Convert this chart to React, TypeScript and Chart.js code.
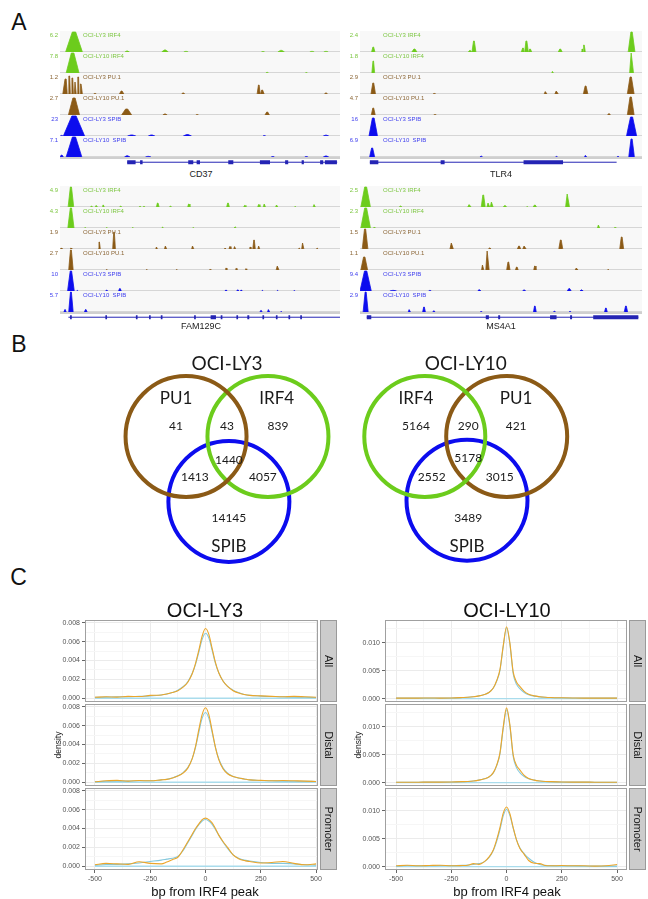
import React, { useEffect, useRef } from "react";
import { Chart, registerables } from "chart.js";
Chart.register(...registerables);

// ================= Panel A : genome browser tracks =================
const TRACK_NAMES = ["OCI-LY3 IRF4", "OCI-LY10 IRF4", "OCI-LY3 PU.1", "OCI-LY10 PU.1", "OCI-LY3 SPIB", "OCI-LY10  SPIB"];

const CD37_SCALES = ["6.2", "7.8", "1.2", "2.7", "23", "7.1"];
const TLR4_SCALES = ["2.4", "1.8", "2.9", "4.7", "16", "6.9"];
const FAM129C_SCALES = ["4.9", "4.3", "1.9", "2.7", "10", "5.7"];
const MS4A1_SCALES = ["2.5", "2.3", "1.5", "1.1", "9.4", "2.9"];

// peaks: [position % of locus, relative height, half width %]
const CD37_LY3_IRF4 = [[5, 1, 3], [24, 0.05, 0.8], [37.5, 0.1, 1.2], [45, 0.03, 0.8], [72.5, 0.02, 0.6], [79, 0.08, 1.2], [90, 0.03, 0.8], [95, 0.03, 0.8]];
const CD37_LY10_IRF4 = [[4.5, 1, 2.3], [74, 0.03, 0.5], [88, 0.02, 0.4]];
const CD37_LY3_PU1 = [[2, 0.75, 1], [3.3, 0.9, 0.7], [4.4, 0.8, 0.7], [5.5, 0.6, 0.7], [6.5, 0.85, 0.7], [7.4, 0.5, 0.6], [12.5, 0.03, 0.5], [22, 0.15, 0.8], [44, 0.05, 0.6], [71, 0.45, 0.6], [72.2, 0.2, 0.7], [95, 0.05, 0.6]];
const CD37_LY10_PU1 = [[5, 0.85, 2], [23.8, 0.3, 1.8], [37.5, 0.05, 0.8], [49, 0.02, 0.5], [74, 0.15, 0.8]];
const CD37_LY3_SPIB = [[0.6, 0.03, 0.5], [5, 1, 3.8], [25.6, 0.05, 1.5], [32.7, 0.05, 1.2], [45.5, 0.07, 1.5], [73, 0.02, 0.5], [95, 0.04, 1]];
const CD37_LY10_SPIB = [[0.6, 0.1, 0.6], [5, 1, 2.8], [24, 0.06, 1], [31.5, 0.03, 1], [76, 0.02, 0.6], [88, 0.02, 0.6], [95, 0.05, 1]];

const TLR4_LY3_IRF4 = [[4.7, 0.25, 0.6], [19.3, 0.15, 0.9], [39, 0.08, 0.6], [40.4, 0.55, 0.7], [57.8, 0.2, 0.6], [59, 0.55, 0.8], [60.3, 0.15, 0.6], [71, 0.15, 0.7], [78.8, 0.15, 0.4], [79.4, 0.35, 0.5], [96.3, 1, 1.2]];
const TLR4_LY10_IRF4 = [[4.7, 0.6, 0.5], [68.3, 0.08, 0.3], [96.3, 1, 0.7]];
const TLR4_LY3_PU1 = [[4.7, 0.55, 0.8], [26.4, 0.03, 0.5], [65.8, 0.12, 0.5], [69.7, 0.15, 0.6], [80, 0.4, 0.8], [96, 0.85, 1.2]];
const TLR4_LY10_PU1 = [[4.7, 0.35, 0.7], [26.6, 0.02, 0.5], [88.3, 0.06, 0.6], [96, 0.9, 1.2]];
const TLR4_LY3_SPIB = [[4.7, 0.9, 1.5], [96.3, 0.95, 1.8]];
const TLR4_LY10_SPIB = [[4.3, 0.45, 0.9], [43, 0.04, 0.5], [69.7, 0.03, 0.4], [80, 0.08, 0.4], [91.5, 0.03, 0.4], [96.3, 0.9, 1]];

const FAM129C_LY3_IRF4 = [[3.9, 1, 1], [11.3, 0.05, 0.4], [13, 0.08, 0.4], [15.4, 0.1, 0.4], [21.7, 0.05, 0.4], [28.6, 0.03, 0.4], [30, 0.03, 0.4], [34.9, 0.2, 0.5], [39.5, 0.05, 0.4], [46, 0.15, 0.4], [60, 0.2, 0.5], [66, 0.08, 0.4], [71, 0.12, 0.4], [73, 0.15, 0.4], [77.4, 0.1, 0.4], [84, 0.03, 0.3], [90.8, 0.12, 0.4]];
const FAM129C_LY10_IRF4 = [[3.9, 1, 1.1], [9, 0.02, 0.3], [16.7, 0.02, 0.3], [26, 0.02, 0.3], [36.7, 0.05, 0.3], [47.6, 0.02, 0.3], [62.6, 0.06, 0.4]];
const FAM129C_LY3_PU1 = [[0.4, 0.05, 0.3], [3.9, 0.05, 0.3], [14, 0.35, 0.4], [19.3, 0.85, 0.5], [34.5, 0.1, 0.3], [37.7, 0.15, 0.4], [47.4, 0.15, 0.4], [59, 0.05, 0.3], [60.7, 0.12, 0.35], [62.4, 0.12, 0.35], [67.9, 0.1, 0.3], [69.3, 0.45, 0.45], [71, 0.15, 0.35], [85.5, 0.05, 0.3], [86.7, 0.3, 0.4], [91.9, 0.05, 0.3]];
const FAM129C_LY10_PU1 = [[3.9, 1, 0.8], [16.7, 0.02, 0.3], [31, 0.02, 0.3], [41.7, 0.02, 0.3], [53.6, 0.03, 0.3], [59.3, 0.1, 0.3], [62.9, 0.08, 0.3], [66.4, 0.06, 0.3], [77.7, 0.2, 0.5]];
const FAM129C_LY3_SPIB = [[3.9, 1, 1.2], [6.2, 0.03, 0.3], [16.7, 0.05, 0.4], [21.4, 0.12, 0.5], [59.3, 0.05, 0.4], [63.5, 0.05, 0.5], [64.7, 0.05, 0.4], [72.3, 0.03, 0.3], [77.7, 0.03, 0.3], [83.7, 0.02, 0.3]];
const FAM129C_LY10_SPIB = [[1.8, 0.12, 0.4], [3.9, 1, 0.8], [9.2, 0.12, 0.5], [71.8, 0.08, 0.4], [74.5, 0.12, 0.4], [79, 0.03, 0.3]];

const MS4A1_LY3_IRF4 = [[2, 1, 1.7], [14.4, 0.05, 0.5], [38.8, 0.12, 0.6], [43.7, 0.6, 0.7], [45.5, 0.2, 0.5], [46.7, 0.25, 0.5], [51.4, 0.07, 0.6], [59.3, 0.02, 0.3], [62, 0.1, 0.6], [73.6, 0.65, 0.7]];
const MS4A1_LY10_IRF4 = [[2, 1, 1.7], [5, 0.03, 0.3], [84.6, 0.15, 0.4], [90.4, 0.03, 0.3]];
const MS4A1_LY3_PU1 = [[1.8, 1, 1], [32.5, 0.3, 0.6], [46, 0.05, 0.5], [56.4, 0.15, 0.6], [58.3, 0.15, 0.6], [71.2, 0.45, 0.7], [92.8, 0.6, 0.7]];
const MS4A1_LY10_PU1 = [[1.5, 0.65, 1.2], [43.5, 0.25, 0.4], [45.2, 0.95, 0.6], [52.6, 0.4, 0.6], [55.6, 0.15, 0.5], [62, 0.2, 0.4], [76.8, 0.1, 0.5], [88, 0.02, 0.3]];
const MS4A1_LY3_SPIB = [[2, 1, 2], [11.8, 0.03, 1.2], [24.8, 0.03, 0.5], [42.3, 0.06, 0.6], [58.2, 0.05, 0.6], [74.2, 0.12, 0.7], [78.6, 0.06, 0.6]];
const MS4A1_LY10_SPIB = [[2, 1, 0.9], [17.5, 0.12, 0.4], [22.7, 0.25, 0.5], [26.2, 0.06, 0.4], [43, 0.03, 0.4], [62, 0.3, 0.5], [69, 0.05, 0.4], [74.5, 0.03, 0.4], [87.2, 0.2, 0.5], [94.3, 0.3, 0.6]];

// gene models: span and exons in % of locus
const CD37_SPAN = [24, 99];
const CD37_EXONS = [[24, 27], [28.6, 29.5], [45.8, 47.6], [48.8, 50], [60.1, 61.9], [71.4, 75], [80.4, 81.5], [86.3, 87.1], [92.9, 94], [94.6, 98.9]];
const TLR4_SPAN = [3.5, 91];
const TLR4_EXONS = [[3.5, 6.5], [28.6, 30], [58, 72]];
const FAM129C_SPAN = [3, 100];
const FAM129C_EXONS = [[3.6, 4.2], [16.2, 16.8], [27.1, 27.7], [31.8, 32.4], [36, 36.6], [47.9, 48.5], [53.8, 55.7], [57.4, 58], [63, 63.6], [66.9, 67.6], [72.3, 72.9], [77.1, 77.7], [81.6, 82.2], [85.8, 86.4]];
const MS4A1_SPAN = [2.4, 98.7];
const MS4A1_EXONS = [[2.4, 4], [44.6, 45.7], [49, 49.7], [67.4, 69.7], [74.5, 75.2], [82.7, 98.7]];

// ================= Panel B : Venn diagrams =================
const LY3_SETS = ["PU1", "IRF4", "SPIB"];
const LY3_COUNTS = ["41", "43", "839", "1440", "1413", "4057", "14145"];
const LY10_SETS = ["IRF4", "PU1", "SPIB"];
const LY10_COUNTS = ["5164", "290", "421", "5178", "2552", "3015", "3489"];

// ================= Panel C : density profiles =================
const DENS_X = [-500, -450, -400, -350, -300, -250, -200, -175, -150, -125, -100, -80, -60, -45, -30, -15, 0, 15, 30, 45, 60, 80, 100, 125, 150, 175, 200, 250, 300, 350, 400, 450, 500];
const LY3_ALL_ORANGE = [0.0001, 0.00015, 0.00012, 0.0002, 0.00018, 0.0003, 0.00035, 0.00045, 0.0006, 0.0008, 0.0012, 0.0017, 0.0026, 0.0037, 0.0051, 0.0066, 0.0074, 0.0068, 0.0053, 0.0038, 0.0027, 0.0018, 0.00125, 0.0008, 0.00055, 0.0004, 0.0003, 0.00025, 0.0002, 0.00015, 0.0002, 0.00015, 0.0001];
const LY3_ALL_BLUE = [0.0001, 0.00012, 0.00015, 0.00015, 0.0002, 0.00025, 0.00035, 0.00045, 0.0006, 0.00085, 0.00125, 0.00175, 0.00265, 0.0036, 0.0049, 0.00625, 0.0069, 0.0064, 0.0051, 0.0037, 0.0027, 0.0018, 0.00125, 0.00085, 0.0006, 0.0004, 0.0003, 0.00022, 0.00018, 0.00015, 0.00012, 0.0001, 0.00008];
const LY3_DISTAL_ORANGE = [0.00005, 0.00015, 0.0002, 0.00012, 0.00018, 0.00015, 0.00025, 0.0003, 0.00045, 0.00065, 0.001, 0.0015, 0.0025, 0.0038, 0.0056, 0.0072, 0.0079, 0.0072, 0.0055, 0.0037, 0.0024, 0.0014, 0.0009, 0.0006, 0.00045, 0.00035, 0.00025, 0.0002, 0.00015, 0.00018, 0.00015, 0.00012, 0.00008];
const LY3_DISTAL_BLUE = [0.00005, 0.0001, 0.00012, 0.00012, 0.00015, 0.00015, 0.00025, 0.00032, 0.00045, 0.00068, 0.00105, 0.00155, 0.0025, 0.0037, 0.0053, 0.0068, 0.0074, 0.0068, 0.0053, 0.0037, 0.0025, 0.0015, 0.00095, 0.00062, 0.00045, 0.00035, 0.00025, 0.00018, 0.00015, 0.00012, 0.0001, 0.0001, 0.00008];
const LY3_PROM_ORANGE = [0.00015, 0.0003, 0.00025, 0.0002, 0.00048, 0.0003, 0.00025, 0.00045, 0.0007, 0.00095, 0.0018, 0.0026, 0.0034, 0.004, 0.0045, 0.00495, 0.0051, 0.00495, 0.0046, 0.004, 0.0033, 0.0026, 0.002, 0.0012, 0.0008, 0.0006, 0.0005, 0.00035, 0.0004, 0.0005, 0.0003, 0.00015, 0.00025];
const LY3_PROM_BLUE = [0.0001, 0.00018, 0.0002, 0.00025, 0.00035, 0.0005, 0.00065, 0.00075, 0.00085, 0.00105, 0.0017, 0.0025, 0.0033, 0.0039, 0.0044, 0.0048, 0.00495, 0.0048, 0.00445, 0.0039, 0.0033, 0.00255, 0.0019, 0.0012, 0.00085, 0.00065, 0.00055, 0.0004, 0.0003, 0.0003, 0.00025, 0.00015, 0.00012];
const LY10_ALL_ORANGE = [0.0001, 0.0001, 0.0001, 0.00012, 0.0001, 0.00012, 0.0002, 0.00025, 0.00035, 0.0005, 0.00075, 0.0011, 0.0019, 0.0032, 0.0052, 0.0095, 0.0129, 0.01, 0.0048, 0.003, 0.0022, 0.0013, 0.0008, 0.0005, 0.00035, 0.00025, 0.0002, 0.00015, 0.00012, 0.0001, 0.0001, 0.0001, 0.0001];
const LY10_ALL_BLUE = [0.0001, 0.0001, 0.0001, 0.00012, 0.0001, 0.00012, 0.0002, 0.00025, 0.00035, 0.0005, 0.00075, 0.0011, 0.0019, 0.0031, 0.005, 0.0093, 0.0127, 0.0098, 0.0045, 0.0026, 0.0018, 0.0011, 0.0007, 0.00045, 0.00032, 0.00025, 0.0002, 0.00015, 0.00012, 0.0001, 0.0001, 0.0001, 0.0001];
const LY10_DISTAL_ORANGE = [0.00008, 0.00008, 0.00008, 0.0001, 0.0001, 0.00012, 0.00018, 0.00022, 0.0003, 0.00045, 0.0007, 0.001, 0.0018, 0.0031, 0.0053, 0.01, 0.0134, 0.0104, 0.005, 0.0031, 0.0023, 0.0013, 0.00075, 0.00045, 0.0003, 0.00022, 0.00018, 0.00012, 0.0001, 0.0001, 0.00008, 0.00008, 0.00008];
const LY10_DISTAL_BLUE = [0.00008, 0.00008, 0.00008, 0.0001, 0.0001, 0.00012, 0.00018, 0.00022, 0.0003, 0.00045, 0.0007, 0.001, 0.00175, 0.003, 0.0051, 0.0097, 0.0131, 0.0101, 0.0047, 0.0027, 0.0018, 0.0011, 0.0007, 0.00045, 0.0003, 0.00022, 0.00018, 0.00012, 0.0001, 0.0001, 0.00008, 0.00008, 0.00008];
const LY10_PROM_ORANGE = [0.00015, 0.00025, 0.00015, 0.0002, 0.00025, 0.00015, 0.0002, 0.00025, 0.00055, 0.0004, 0.0009, 0.0017, 0.003, 0.0048, 0.007, 0.0096, 0.0107, 0.0095, 0.007, 0.0048, 0.0033, 0.0022, 0.0011, 0.0006, 0.00055, 0.0002, 0.00015, 0.0002, 0.00015, 0.00015, 0.0001, 0.00015, 0.0004];
const LY10_PROM_BLUE = [0.0001, 0.0002, 0.00015, 0.00015, 0.0002, 0.0002, 0.00025, 0.0003, 0.0004, 0.00055, 0.0009, 0.0016, 0.0029, 0.0045, 0.0066, 0.0091, 0.0103, 0.0092, 0.0069, 0.0048, 0.0034, 0.0023, 0.0015, 0.0008, 0.0004, 0.00025, 0.0002, 0.00015, 0.00015, 0.00012, 0.0001, 0.0001, 0.0001];
const FLAT_X = [-500, 500];
const FLAT_Y = [0, 0];

const FACETS = ["All", "Distal", "Promoter"];
const X_MAJOR = [-500, -250, 0, 250, 500];
const X_MINOR = [-375, -125, 125, 375];
const LY3_Y_MAJOR = [0, 0.002, 0.004, 0.006, 0.008];
const LY3_Y_MINOR = [0.001, 0.003, 0.005, 0.007];
const LY10_Y_MAJOR = [0, 0.005, 0.01];
const LY10_Y_MINOR = [0.0025, 0.0075, 0.0125];

// ================= styles =================
const IRF4_COLOR = "#6ccc1c";
const PU1_COLOR = "#8b5a16";
const SPIB_COLOR = "#0c0cee";
const TRACK_COLORS = [IRF4_COLOR, IRF4_COLOR, PU1_COLOR, PU1_COLOR, SPIB_COLOR, SPIB_COLOR];
const TRACK_LABEL_COLORS = ["#7cc640", "#7cc640", "#8a6434", "#8a6434", "#4040ee", "#4040ee"];
const GENE_COLOR = "#2424b4";
const ORANGE = "#eca62a";
const LIGHTBLUE = "#84c8dc";
const FLAT_BLUE = "#a9dcec";
const SANS = '"Liberation Sans", Arial, Helvetica, sans-serif';
const VENN_FONT = 'Lato, "Open Sans", sans-serif';

const LOCI = [
  { gene: "CD37", scales: CD37_SCALES, tracks: [CD37_LY3_IRF4, CD37_LY10_IRF4, CD37_LY3_PU1, CD37_LY10_PU1, CD37_LY3_SPIB, CD37_LY10_SPIB], span: CD37_SPAN, exons: CD37_EXONS, x0: 60, x1: 340, top: 31, labelY: 174 },
  { gene: "TLR4", scales: TLR4_SCALES, tracks: [TLR4_LY3_IRF4, TLR4_LY10_IRF4, TLR4_LY3_PU1, TLR4_LY10_PU1, TLR4_LY3_SPIB, TLR4_LY10_SPIB], span: TLR4_SPAN, exons: TLR4_EXONS, x0: 360, x1: 642, top: 31, labelY: 174 },
  { gene: "FAM129C", scales: FAM129C_SCALES, tracks: [FAM129C_LY3_IRF4, FAM129C_LY10_IRF4, FAM129C_LY3_PU1, FAM129C_LY10_PU1, FAM129C_LY3_SPIB, FAM129C_LY10_SPIB], span: FAM129C_SPAN, exons: FAM129C_EXONS, x0: 60, x1: 340, top: 186, labelY: 326 },
  { gene: "MS4A1", scales: MS4A1_SCALES, tracks: [MS4A1_LY3_IRF4, MS4A1_LY10_IRF4, MS4A1_LY3_PU1, MS4A1_LY10_PU1, MS4A1_LY3_SPIB, MS4A1_LY10_SPIB], span: MS4A1_SPAN, exons: MS4A1_EXONS, x0: 360, x1: 642, top: 186, labelY: 326 },
];
const TRACK_H = 21;
const LBL_PAD = 22;

// ================= helpers =================
function ChartBox({ left, top, width, height, make }: { left: number; top: number; width: number; height: number; make: () => any }) {
  const ref = useRef<HTMLCanvasElement | null>(null);
  useEffect(() => {
    const chart = new Chart(ref.current as HTMLCanvasElement, make());
    return () => chart.destroy();
  }, []);
  return (
    <div style={{ position: "absolute", left, top, width, height }}>
      <canvas ref={ref} />
    </div>
  );
}

function Txt({ x, y, text, size, font = SANS, color = "#111", rotate = 0 }: any) {
  return (
    <div
      style={{
        position: "absolute",
        left: x,
        top: y,
        transform: `translate(-50%, -50%) rotate(${rotate}deg)`,
        fontFamily: font,
        fontSize: size,
        lineHeight: 1,
        whiteSpace: "pre",
        color,
      }}
    >
      {text}
    </div>
  );
}

const baseOpts = {
  animation: false,
  responsive: true,
  maintainAspectRatio: false,
  events: [] as any[],
};

const trackDecor = {
  id: "trackDecor",
  beforeDraw(chart: any) {
    const { ctx, chartArea: a } = chart;
    ctx.save();
    ctx.fillStyle = "#f8f8f8";
    ctx.fillRect(a.left, a.top, a.right - a.left, a.bottom - a.top);
    ctx.fillStyle = "#d6d6d6";
    ctx.fillRect(a.left, a.bottom - 1, a.right - a.left, 1);
    ctx.restore();
  },
  afterDraw(chart: any, _a: any, o: any) {
    const { ctx, chartArea: a } = chart;
    ctx.save();
    ctx.font = `6px ${SANS}`;
    ctx.fillStyle = o.labelColor;
    ctx.textBaseline = "middle";
    ctx.textAlign = "right";
    ctx.fillText(o.value, a.left - 2, a.top + 4);
    ctx.textAlign = "left";
    ctx.fillText(o.name, a.left + 23, a.top + 4);
    ctx.restore();
  },
};

function trackConfig(peaks: number[][], color: string, labelColor: string, value: string, name: string) {
  const pts: { x: number; y: number }[] = [{ x: 0, y: 0 }, { x: 100, y: 0 }];
  for (const [c, h, w] of peaks) {
    pts.push({ x: c - w, y: 0 }, { x: c - w * 0.2, y: h }, { x: c + w * 0.2, y: h }, { x: c + w, y: 0 });
  }
  pts.sort((p, q) => p.x - q.x);
  return {
    type: "line",
    data: {
      datasets: [
        {
          data: pts,
          backgroundColor: color,
          borderColor: color,
          borderWidth: 0.8,
          fill: "origin",
          pointRadius: 0,
          tension: 0,
          segment: {
            borderColor: (c: any) => (c.p0.parsed.y === 0 && c.p1.parsed.y === 0 ? "rgba(0,0,0,0)" : color),
          },
        },
      ],
    },
    options: {
      ...baseOpts,
      layout: { autoPadding: false, padding: { left: LBL_PAD, top: 0, right: 0, bottom: 0 } },
      plugins: { legend: { display: false }, tooltip: { enabled: false }, trackDecor: { labelColor, value, name } },
      scales: {
        x: { type: "linear", min: 0, max: 100, display: false },
        y: { type: "linear", min: 0, max: 1.05, display: false },
      },
    },
    plugins: [trackDecor],
  };
}

const geneDecor = {
  id: "geneDecor",
  beforeDraw(chart: any) {
    const { ctx, chartArea: a } = chart;
    ctx.save();
    ctx.fillStyle = "#cfcfcf";
    ctx.fillRect(a.left, a.top, a.right - a.left, 2);
    ctx.restore();
  },
};

function geneConfig(span: number[], exons: number[][]) {
  const exonPts: { x: number; y: number | null }[] = [];
  for (const [s, e] of exons) {
    exonPts.push({ x: s, y: 0.42 }, { x: e, y: 0.42 }, { x: e, y: null });
  }
  return {
    type: "line",
    data: {
      datasets: [
        { data: [{ x: span[0], y: 0.42 }, { x: span[1], y: 0.42 }], borderColor: GENE_COLOR, borderWidth: 1, pointRadius: 0 },
        { data: exonPts, borderColor: GENE_COLOR, borderWidth: 4, borderCapStyle: "butt", pointRadius: 0, spanGaps: false },
      ],
    },
    options: {
      ...baseOpts,
      layout: { autoPadding: false, padding: { left: LBL_PAD, top: 0, right: 0, bottom: 0 } },
      plugins: { legend: { display: false }, tooltip: { enabled: false } },
      scales: {
        x: { type: "linear", min: 0, max: 100, display: false },
        y: { type: "linear", min: 0, max: 1, display: false },
      },
    },
    plugins: [geneDecor],
  };
}

// Venn
const VENN_UNIT = 63;
const VENN_XMIN = -2, VENN_XMAX = 2, VENN_YMIN = -2.2, VENN_YMAX = 1.5;
const vennText = {
  id: "vennText",
  afterDraw(chart: any, _a: any, o: any) {
    const { ctx, scales } = chart;
    ctx.save();
    ctx.fillStyle = "#1a1a1a";
    ctx.textAlign = "center";
    ctx.textBaseline = "middle";
    for (const t of o.items) {
      ctx.font = `${t.size}px ${VENN_FONT}`;
      ctx.fillText(t.text, scales.x.getPixelForValue(t.x), scales.y.getPixelForValue(t.y));
    }
    ctx.restore();
  },
};

function vennConfig(title: string, sets: string[], counts: string[], centers: number[][], setPos: number[][], regionPos: number[][], colors: string[]) {
  const items: any[] = [{ text: title, x: (centers[0][0] + centers[1][0]) / 2, y: 1.16, size: 19 }];
  sets.forEach((s, i) => items.push({ text: s, x: setPos[i][0], y: setPos[i][1], size: 17 }));
  counts.forEach((c, i) => items.push({ text: c, x: regionPos[i][0], y: regionPos[i][1], size: 12 }));
  return {
    type: "scatter",
    data: {
      datasets: centers.map((c, i) => ({
        data: [{ x: c[0], y: c[1] }],
        pointRadius: 60.5,
        pointBorderWidth: 4,
        pointBackgroundColor: "rgba(0,0,0,0)",
        pointBorderColor: colors[i],
        clip: false,
      })),
    },
    options: {
      ...baseOpts,
      layout: { autoPadding: false, padding: 0 },
      plugins: { legend: { display: false }, tooltip: { enabled: false }, vennText: { items } },
      scales: {
        x: { type: "linear", min: VENN_XMIN, max: VENN_XMAX, display: false },
        y: { type: "linear", min: VENN_YMIN, max: VENN_YMAX, display: false },
      },
    },
    plugins: [vennText],
  };
}

// density panels
const densDecor = {
  id: "densDecor",
  afterDraw(chart: any, _a: any, o: any) {
    const { ctx, chartArea: a } = chart;
    ctx.save();
    ctx.strokeStyle = "#a0a0a0";
    ctx.lineWidth = 1;
    ctx.strokeRect(a.left + 0.5, a.top + 0.5, a.right - a.left - 1, a.bottom - a.top - 1);
    const sx = a.right + 2;
    const sw = 17;
    ctx.fillStyle = "#cccccc";
    ctx.fillRect(sx, a.top, sw, a.bottom - a.top);
    ctx.strokeStyle = "#9a9a9a";
    ctx.strokeRect(sx + 0.5, a.top + 0.5, sw - 1, a.bottom - a.top - 1);
    ctx.fillStyle = "#1a1a1a";
    ctx.font = `11px ${SANS}`;
    ctx.textAlign = "center";
    ctx.textBaseline = "middle";
    ctx.translate(sx + sw / 2, (a.top + a.bottom) / 2);
    ctx.rotate(Math.PI / 2);
    ctx.fillText(o.strip, 0, 0);
    ctx.restore();
    if (o.yTitle) {
      ctx.save();
      ctx.fillStyle = "#1a1a1a";
      ctx.font = `8.5px ${SANS}`;
      ctx.textAlign = "center";
      ctx.textBaseline = "middle";
      ctx.translate(a.left - 26, (a.top + a.bottom) / 2);
      ctx.rotate(-Math.PI / 2);
      ctx.fillText(o.yTitle, 0, 0);
      ctx.restore();
    }
  },
};

function densConfig(p: any) {
  const mk = (ys: number[]) => DENS_X.map((x, i) => ({ x, y: ys[i] }));
  const yTicks = [...p.yMajor, ...p.yMinor].sort((a: number, b: number) => a - b);
  const xTicks = [...X_MAJOR, ...X_MINOR].sort((a, b) => a - b);
  return {
    type: "line",
    data: {
      datasets: [
        { data: mk(p.orange), borderColor: ORANGE, borderWidth: 1.1, pointRadius: 0, cubicInterpolationMode: "monotone", fill: false },
        { data: mk(p.blue), borderColor: LIGHTBLUE, borderWidth: 1.1, pointRadius: 0, cubicInterpolationMode: "monotone", fill: false },
        { data: FLAT_X.map((x, i) => ({ x, y: FLAT_Y[i] })), borderColor: FLAT_BLUE, borderWidth: 1.3, pointRadius: 0, fill: false },
      ],
    },
    options: {
      ...baseOpts,
      layout: { autoPadding: false, padding: { left: 0, top: 4, right: p.padRight, bottom: 0 } },
      plugins: { legend: { display: false }, tooltip: { enabled: false }, densDecor: { strip: p.strip, yTitle: p.yTitle } },
      scales: {
        x: {
          type: "linear",
          min: p.xMin,
          max: p.xMax,
          afterBuildTicks: (s: any) => {
            s.ticks = xTicks.map((v) => ({ value: v }));
          },
          afterFit: (s: any) => {
            s.height = p.showX ? 14 : 0;
            s.paddingLeft = 0;
            s.paddingRight = 0;
          },
          ticks: {
            display: p.showX,
            autoSkip: false,
            maxRotation: 0,
            padding: 2,
            color: "#555",
            font: { size: 7, family: SANS },
            callback: (v: number) => (X_MAJOR.includes(v) ? String(v) : ""),
          },
          grid: {
            drawTicks: p.showX,
            tickLength: 3,
            color: (c: any) => (X_MAJOR.includes(c.tick?.value) ? "#ebebeb" : "#f6f6f6"),
            tickColor: (c: any) => (X_MAJOR.includes(c.tick?.value) ? "#666" : "rgba(0,0,0,0)"),
          },
          border: { display: false },
        },
        y: {
          type: "linear",
          min: p.yMin,
          max: p.yMax,
          afterBuildTicks: (s: any) => {
            s.ticks = yTicks.map((v: number) => ({ value: v }));
          },
          afterFit: (s: any) => {
            s.width = p.yWidth;
            s.paddingTop = 0;
            s.paddingBottom = 0;
          },
          ticks: {
            autoSkip: false,
            padding: 2,
            color: "#555",
            font: { size: 7, family: SANS },
            callback: (v: number) => (p.yMajor.includes(v) ? v.toFixed(3) : ""),
          },
          grid: {
            drawTicks: true,
            tickLength: 3,
            color: (c: any) => (p.yMajor.includes(c.tick?.value) ? "#ebebeb" : "#f6f6f6"),
            tickColor: (c: any) => (p.yMajor.includes(c.tick?.value) ? "#666" : "rgba(0,0,0,0)"),
          },
          border: { display: false },
        },
      },
    },
    plugins: [densDecor],
  };
}

const ROW_TOPS = [620, 704, 788];
const ROW_H = 82;
const DENS_COLS = [
  {
    x: 40, w: 300, yWidth: 45, padRight: 22, xMin: -545, xMax: 509, yMin: -0.0004, yMax: 0.0083,
    yMajor: LY3_Y_MAJOR, yMinor: LY3_Y_MINOR,
    series: [[LY3_ALL_ORANGE, LY3_ALL_BLUE], [LY3_DISTAL_ORANGE, LY3_DISTAL_BLUE], [LY3_PROM_ORANGE, LY3_PROM_BLUE]],
    title: "OCI-LY3", titleX: 205,
  },
  {
    x: 345, w: 303, yWidth: 40, padRight: 21, xMin: -550, xMax: 545, yMin: -0.0006, yMax: 0.0141,
    yMajor: LY10_Y_MAJOR, yMinor: LY10_Y_MINOR,
    series: [[LY10_ALL_ORANGE, LY10_ALL_BLUE], [LY10_DISTAL_ORANGE, LY10_DISTAL_BLUE], [LY10_PROM_ORANGE, LY10_PROM_BLUE]],
    title: "OCI-LY10", titleX: 507,
  },
];

export default function App() {
  return (
    <div style={{ position: "absolute", left: 0, top: 0, width: 648, height: 899, background: "#fff", overflow: "hidden" }}>
      <Txt x={19} y={21.5} text="A" size={23} />
      <Txt x={19} y={343.5} text="B" size={23} />
      <Txt x={18.5} y={576.5} text="C" size={23} />

      {LOCI.map((L, bi) => (
        <React.Fragment key={L.gene}>
          {L.tracks.map((peaks, ti) => (
            <ChartBox
              key={ti}
              left={L.x0 - LBL_PAD}
              top={L.top + ti * TRACK_H}
              width={L.x1 - L.x0 + LBL_PAD}
              height={TRACK_H}
              make={() => trackConfig(peaks, TRACK_COLORS[ti], TRACK_LABEL_COLORS[ti], L.scales[ti], TRACK_NAMES[ti])}
            />
          ))}
          <ChartBox
            left={L.x0 - LBL_PAD}
            top={L.top + 6 * TRACK_H}
            width={L.x1 - L.x0 + LBL_PAD}
            height={9}
            make={() => geneConfig(L.span, L.exons)}
          />
          <Txt x={bi % 2 === 0 ? 201 : 501} y={L.labelY} text={L.gene} size={9} color="#222" />
        </React.Fragment>
      ))}

      <ChartBox
        left={227 - 2 * VENN_UNIT}
        top={436 - VENN_YMAX * VENN_UNIT}
        width={(VENN_XMAX - VENN_XMIN) * VENN_UNIT}
        height={(VENN_YMAX - VENN_YMIN) * VENN_UNIT}
        make={() =>
          vennConfig(
            "OCI-LY3",
            LY3_SETS,
            LY3_COUNTS,
            [[-0.65, 0], [0.65, 0], [0.03, -1.03]],
            [[-0.81, 0.6], [0.79, 0.6], [0.03, -1.75]],
            [[-0.81, 0.16], [0, 0.16], [0.81, 0.16], [0.03, -0.37], [-0.51, -0.65], [0.57, -0.65], [0.03, -1.29]],
            [PU1_COLOR, IRF4_COLOR, SPIB_COLOR]
          )
        }
      />
      <ChartBox
        left={467 - 2 * VENN_UNIT}
        top={436 - VENN_YMAX * VENN_UNIT}
        width={(VENN_XMAX - VENN_XMIN) * VENN_UNIT}
        height={(VENN_YMAX - VENN_YMIN) * VENN_UNIT}
        make={() =>
          vennConfig(
            "OCI-LY10",
            LY10_SETS,
            LY10_COUNTS,
            [[-0.67, 0], [0.63, 0], [0, -1.01]],
            [[-0.81, 0.6], [0.78, 0.6], [0, -1.75]],
            [[-0.81, 0.16], [0.02, 0.16], [0.78, 0.16], [0.02, -0.35], [-0.56, -0.65], [0.52, -0.65], [0.02, -1.3]],
            [IRF4_COLOR, PU1_COLOR, SPIB_COLOR]
          )
        }
      />

      {DENS_COLS.map((col) => (
        <React.Fragment key={col.title}>
          <Txt x={col.titleX} y={610} text={col.title} size={20} />
          {FACETS.map((f, ri) => {
            const showX = ri === 2;
            return (
              <ChartBox
                key={f}
                left={col.x}
                top={ROW_TOPS[ri] - 4}
                width={col.w}
                height={4 + ROW_H + (showX ? 14 : 0)}
                make={() =>
                  densConfig({
                    orange: col.series[ri][0],
                    blue: col.series[ri][1],
                    yMin: col.yMin,
                    yMax: col.yMax,
                    yMajor: col.yMajor,
                    yMinor: col.yMinor,
                    xMin: col.xMin,
                    xMax: col.xMax,
                    showX,
                    strip: f,
                    yTitle: ri === 1 ? "density" : "",
                    yWidth: col.yWidth,
                    padRight: col.padRight,
                  })
                }
              />
            );
          })}
          <Txt x={col.titleX} y={891} text="bp from IRF4 peak" size={13} />
        </React.Fragment>
      ))}
    </div>
  );
}
